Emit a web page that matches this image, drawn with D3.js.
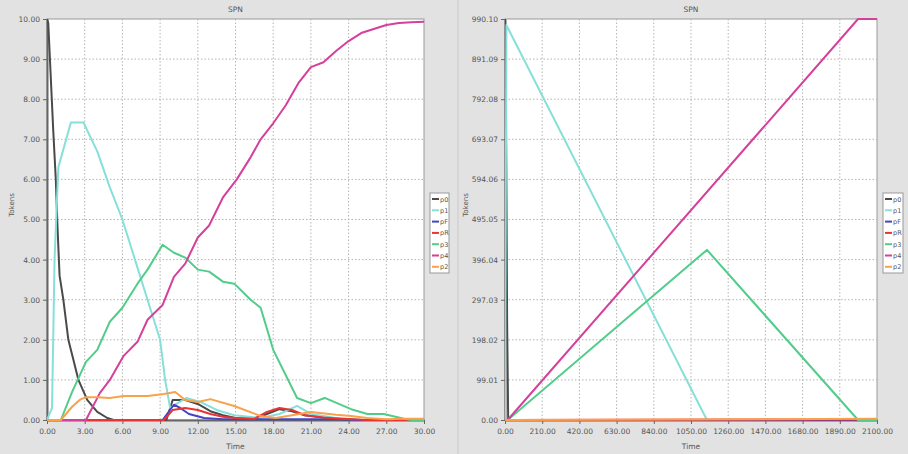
<!DOCTYPE html>
<html><head><meta charset="utf-8">
<script src="https://cdn.jsdelivr.net/npm/d3@7"></script>
<style>body{margin:0;background:#e2e2e2;}svg{display:block;}</style>
</head><body><svg id="c" width="908" height="454"></svg>
<script>
// ---------- data ----------
const seriesNames = ["p0","p1","pF","pR","p3","p4","p2"];
const seriesColors = ["#4a4a4a","#86e0d9","#4444c4","#e83434","#52cc8a","#d4409a","#f8a24c"];

const leftXTicks = [0,3,6,9,12,15,18,21,24,27,30];
const leftYTicks = [0,1,2,3,4,5,6,7,8,9,10];
const rightXTicks = [0,210,420,630,840,1050,1260,1470,1680,1890,2100];
const rightYTicks = [0,99.01,198.02,297.03,396.04,495.05,594.06,693.07,792.08,891.09,990.10];

const leftP0 = [[0,10],[0.1,9.9],[0.5,7.2],[0.7,6.0],[0.85,4.7],[1.0,3.6],[1.3,3.0],[1.7,2.0],[2.1,1.5],[2.5,1.0],[3.2,0.5],[4.0,0.2],[4.8,0.05],[5.3,0],[9.5,0],[10,0.5],[11,0.5],[12,0.4],[13,0.22],[14,0.12],[15,0.05],[16.5,0.02],[17.5,0.15],[18.5,0.27],[19.5,0.22],[20.5,0.12],[22,0.06],[23.5,0.02],[25,0],[30,0]];
const leftP1 = [[0,0],[0.4,0.3],[0.6,4.0],[0.9,6.3],[1.9,7.42],[2.9,7.42],[4.0,6.7],[5.0,5.8],[6.0,5.0],[7.0,4.0],[8.0,3.0],[9.0,2.0],[9.4,1.0],[9.8,0.3],[10.3,0.4],[11.1,0.55],[12.2,0.45],[13.5,0.25],[14.9,0.12],[17,0.05],[18.5,0.15],[19.9,0.35],[21,0.15],[23,0.05],[25,0],[30,0]];
const leftPF = [[0,0],[9.2,0],[10.1,0.38],[10.6,0.3],[11.3,0.15],[12.5,0.05],[14,0.02],[24,0.02],[24.5,0],[30,0]];
const leftPR = [[0,0],[9.3,0],[10,0.25],[11,0.3],[12,0.25],[13,0.15],[14,0.08],[15,0.05],[16.5,0.03],[17.5,0.2],[18.5,0.3],[19.5,0.25],[20.5,0.12],[22,0.06],[23.5,0.03],[25.5,0],[30,0]];
const leftP3 = [[0,0],[1.1,0],[2,0.7],[3.1,1.45],[4.0,1.75],[5.0,2.45],[6.0,2.8],[7.2,3.4],[8.0,3.75],[9.2,4.37],[10.1,4.17],[11,4.05],[12,3.75],[12.9,3.7],[14,3.45],[14.9,3.4],[16.2,3.0],[17,2.8],[18,1.75],[19.9,0.55],[21,0.42],[22.1,0.55],[24.2,0.27],[25.5,0.15],[26.8,0.15],[28.4,0.03],[29,0],[30,0]];
const leftP4 = [[0,0],[3.1,0],[4.2,0.67],[5.0,1.0],[6.1,1.6],[7.2,1.95],[8,2.5],[9.2,2.87],[10.1,3.57],[11,3.9],[12,4.55],[12.9,4.85],[14,5.55],[15.1,6.0],[16.2,6.55],[17,7.0],[18,7.4],[19,7.85],[20,8.4],[21,8.8],[22,8.92],[23,9.2],[24,9.45],[25,9.65],[26,9.75],[27,9.85],[28,9.9],[29,9.92],[30,9.93]];
const leftP2 = [[0,0],[1.1,0],[2,0.33],[2.6,0.5],[3.1,0.57],[4,0.57],[5,0.55],[6.1,0.6],[8,0.6],[9.3,0.65],[10.2,0.7],[11,0.5],[12,0.45],[13,0.52],[14.9,0.35],[17,0.1],[18.2,0.05],[19.5,0.12],[21,0.2],[23,0.13],[24.2,0.1],[25.5,0.05],[27,0.02],[28.5,0.03],[30,0.03]];

const rightP0 = [[0,990.1],[6,740],[12,240],[18,0],[2100,0]];
const rightP1 = [[0,0],[4,500],[8,975],[1140,0],[2100,0]];
const rightPF = [[0,0],[2100,0]];
const rightPR = [[0,0],[2100,1.5]];
const rightP3 = [[0,0],[15,0],[1140,420],[1993,0],[2100,0]];
const rightP4 = [[0,0],[15,0],[1993,990.1],[2100,990.1]];
const rightP2 = [[0,0],[2100,3]];

// ---------- drawing ----------
const svg = d3.select("#c");
const font = "'DejaVu Sans', sans-serif";

function panel(cfg){
  const g = svg.append("g");
  const x = d3.scaleLinear().domain(cfg.xDomain).range([cfg.left, cfg.right]);
  const y = d3.scaleLinear().domain(cfg.yDomain).range([cfg.bottom, cfg.top]);
  // plot bg
  g.append("rect").attr("x",cfg.left).attr("y",cfg.top).attr("width",cfg.right-cfg.left).attr("height",cfg.bottom-cfg.top)
    .attr("fill","#fff").attr("stroke","#9a9a9a").attr("stroke-width",1);
  // grid
  g.append("g").selectAll("line").data(cfg.xTicks.slice(1,-1)).join("line")
    .attr("x1",d=>x(d)).attr("x2",d=>x(d)).attr("y1",cfg.top).attr("y2",cfg.bottom)
    .attr("stroke","#b4b4b4").attr("stroke-width",1).attr("stroke-dasharray","1.5,2");
  g.append("g").selectAll("line").data(cfg.yTicks.slice(1,-1)).join("line")
    .attr("y1",d=>y(d)).attr("y2",d=>y(d)).attr("x1",cfg.left).attr("x2",cfg.right)
    .attr("stroke","#b4b4b4").attr("stroke-width",1).attr("stroke-dasharray","1.5,2");
  // axes
  const xa = g.append("g").attr("transform",`translate(0,${cfg.bottom})`)
    .call(d3.axisBottom(x).tickValues(cfg.xTicks).tickFormat(d3.format(".2f")).tickSizeInner(4).tickSizeOuter(0));
  const ya = g.append("g").attr("transform",`translate(${cfg.left},0)`)
    .call(d3.axisLeft(y).tickValues(cfg.yTicks).tickFormat(d3.format(".2f")).tickSizeInner(4).tickSizeOuter(0));
  [xa,ya].forEach(a=>{
    a.select(".domain").attr("stroke","#666").attr("stroke-width",2);
    a.selectAll(".tick line").attr("stroke","#666");
    a.selectAll("text").attr("font-family",font).attr("font-size",7.5).attr("fill","#555");
  });
  xa.selectAll("text").attr("dy","0.9em");
  // lines
  const line = d3.line().x(d=>x(d[0])).y(d=>y(d[1]));
  const clip = "clip"+cfg.id;
  g.append("clipPath").attr("id",clip).append("rect").attr("x",cfg.left).attr("y",cfg.top-2).attr("width",cfg.right-cfg.left).attr("height",cfg.bottom-cfg.top+3);
  const lg = g.append("g").attr("clip-path",`url(#${clip})`);
  cfg.series.forEach((s,i)=>{
    lg.append("path").attr("d",line(s)).attr("fill","none").attr("stroke",seriesColors[i])
      .attr("stroke-width",2).attr("stroke-linejoin","round");
  });
  // title, labels
  g.append("text").attr("x",(cfg.left+cfg.right)/2).attr("y",12).attr("text-anchor","middle")
    .attr("font-family",font).attr("font-size",7.5).attr("fill","#555").text("SPN");
  g.append("text").attr("x",(cfg.left+cfg.right)/2).attr("y",449).attr("text-anchor","middle")
    .attr("font-family",font).attr("font-size",7.5).attr("fill","#555").text("Time");
  g.append("text").attr("transform",`translate(${cfg.ylabX},205) rotate(-90)`).attr("text-anchor","middle")
    .attr("font-family",font).attr("font-size",7).attr("fill","#555").text("Tokens");
  // legend
  const lx = cfg.right+6, ly = 193;
  g.append("rect").attr("x",lx).attr("y",ly).attr("width",cfg.legW).attr("height",80)
    .attr("fill","#fff").attr("stroke","#999");
  seriesNames.forEach((n,i)=>{
    const yy = ly+6+i*11.3;
    g.append("line").attr("x1",lx+2).attr("x2",lx+9).attr("y1",yy).attr("y2",yy)
      .attr("stroke",seriesColors[i]).attr("stroke-width",2);
    g.append("text").attr("x",lx+10).attr("y",yy+2.5).attr("font-family",font).attr("font-size",6.5)
      .attr("fill","#555").text(n);
  });
}

svg.append("rect").attr("width",908).attr("height",454).attr("fill","#e2e2e2");
svg.append("line").attr("x1",458).attr("x2",458).attr("y1",0).attr("y2",454).attr("stroke","#cacaca");

panel({id:"L", left:47, right:424, top:19, bottom:420, xDomain:[0,30], yDomain:[0,10],
  xTicks:leftXTicks, yTicks:leftYTicks, ylabX:14, legW:19,
  series:[leftP0,leftP1,leftPF,leftPR,leftP3,leftP4,leftP2]});
panel({id:"R", left:505, right:877, top:19, bottom:420, xDomain:[0,2100], yDomain:[0,990.10],
  xTicks:rightXTicks, yTicks:rightYTicks, ylabX:468, legW:20,
  series:[rightP0,rightP1,rightPF,rightPR,rightP3,rightP4,rightP2]});
</script></body></html>
